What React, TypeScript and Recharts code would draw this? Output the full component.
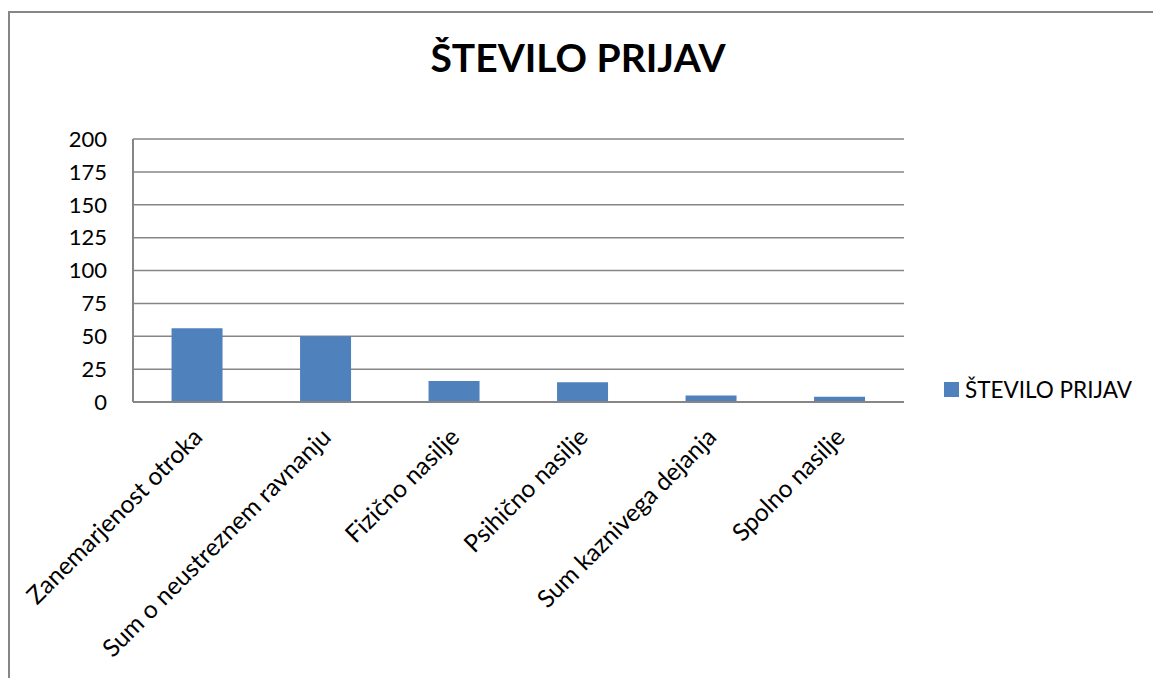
import React from 'react';
import { BarChart, Bar, XAxis, YAxis, CartesianGrid, Legend } from 'recharts';

const categories = [
  'Zanemarjenost otroka',
  'Sum o neustreznem ravnanju',
  'Fizično nasilje',
  'Psihično nasilje',
  'Sum kaznivega dejanja',
  'Spolno nasilje',
];
const values = [56, 50, 16, 15, 5, 4];
const yTicks = [0, 25, 50, 75, 100, 125, 150, 175, 200];
const seriesName = 'ŠTEVILO PRIJAV';
const chartTitle = 'ŠTEVILO PRIJAV';

const data = categories.map((c, i) => ({ name: c, value: values[i] }));

const FONT = 'Lato, "Open Sans", sans-serif';
const GRAY = '#868686';
const BLUE = '#4F81BD';

const XTick = (props: any) => {
  const { x, y, payload } = props;
  return (
    <g transform={`translate(${x},${y + 30})`}>
      <text
        x={0}
        y={0}
        transform="rotate(-45)"
        textAnchor="end"
        dominantBaseline="central"
        fontFamily={FONT}
        fontSize={24.5}
        fill="#000"
      >
        {payload.value}
      </text>
    </g>
  );
};

const LegendContent = () => (
  <div style={{ display: 'flex', alignItems: 'center', fontFamily: FONT, fontSize: 22.5, color: '#000', whiteSpace: 'nowrap' }}>
    <span style={{ display: 'inline-block', width: 15, height: 15, background: BLUE, marginRight: 6 }} />
    <span>{seriesName}</span>
  </div>
);

export default function App() {
  return (
    <div>
      <div
        style={{
          position: 'absolute',
          left: 8,
          top: 11,
          width: 1145,
          height: 667,
          borderLeft: `2px solid ${GRAY}`,
          borderTop: `2px solid ${GRAY}`,
          boxSizing: 'border-box',
        }}
      />
      <svg style={{ position: 'absolute', left: 0, top: 0 }} width={1153} height={100}>
        <text x={578} y={72} textAnchor="middle" fontFamily={FONT} fontWeight="bold" fontSize={39} fill="#000">
          {chartTitle}
        </text>
      </svg>
      <div style={{ position: 'absolute', left: 0, top: 0 }}>
        <BarChart
          width={1153}
          height={678}
          data={data}
          margin={{ top: 139, right: 44, bottom: 76, left: 73 }}
          barCategoryGap="30%"
        >
          <CartesianGrid vertical={false} stroke={GRAY} strokeWidth={1.5} />
          <XAxis
            dataKey="name"
            interval={0}
            height={200}
            tick={<XTick />}
            tickLine={false}
            tickSize={0}
            tickMargin={0}
            axisLine={{ stroke: GRAY, strokeWidth: 2 }}
          />
          <YAxis
            domain={[0, 200]}
            ticks={yTicks}
            width={60}
            tickLine={false}
            tickSize={0}
            tickMargin={26}
            axisLine={{ stroke: GRAY, strokeWidth: 2 }}
            tick={{ fontFamily: FONT, fontSize: 22, fill: '#000' }}
          />
          <Legend
            layout="vertical"
            verticalAlign="top"
            align="right"
            content={<LegendContent />}
            wrapperStyle={{ left: 944, top: 376, width: 205 }}
          />
          <Bar dataKey="value" name={seriesName} fill={BLUE} isAnimationActive={false} />
        </BarChart>
      </div>
    </div>
  );
}
